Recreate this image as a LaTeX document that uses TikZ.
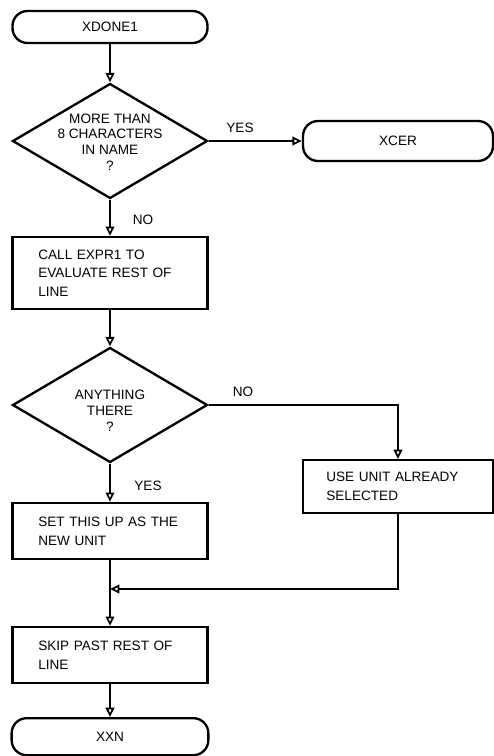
\documentclass[tikz,border=0pt]{standalone}
\usepackage{fontspec}
\setmainfont{Liberation Sans}
\usetikzlibrary{shapes.geometric}
\usetikzlibrary{arrows.meta}

\tikzset{
  term/.style={draw, line width=2pt, rounded corners=0.45cm, minimum width=5.85cm, minimum height=0.96cm},
  proc/.style={draw, line width=2pt, minimum width=5.85cm, minimum height=1.68cm, text width=4.3cm, align=left, inner sep=0pt},
  decide/.style={draw, diamond, line width=2pt, minimum width=5.85cm, minimum height=3.45cm, inner sep=0pt},
  dtext/.style={align=center, font=\fontsize{11.6}{13.5}\selectfont},
  flow/.style={line width=1pt, -{Triangle[open, length=0.28cm, width=0.26cm, line width=1.5pt]}}
}

\begin{document}
\begin{tikzpicture}[font=\fontsize{11.6}{16}\selectfont]
          \useasboundingbox (0,0) rectangle (14.82,-22.68);

          \node[term] (start) at (3.3,-0.81) {XDONE1};
          \node[decide] (d1) at (3.3,-4.23) {};
          \node[dtext] (d1t) at (3.3,-4.26) {MORE THAN\\8 CHARACTERS\\IN NAME\\?};
          \node[term, minimum width=5.7cm, minimum height=1.2cm] (xcer) at (11.94,-4.23) {XCER};
          \node[proc, minimum height=2.16cm] (evl) at (3.3,-8.19) {CALL EXPR1 TO\\EVALUATE REST OF\\LINE};

          \node[decide] (d2) at (3.3,-12.15) {};
          \node[dtext] (d2t) at (3.3,-12.33) {ANYTHING\\THERE\\?};
          \node[proc, minimum width=5.7cm, minimum height=1.59cm] (old) at (11.94,-14.6) {USE UNIT ALREADY\\SELECTED};
          \node[proc] (set) at (3.3,-15.93) {SET THIS UP AS THE\\NEW UNIT};
          \coordinate (join) at (3.3,-17.67);

          \node[proc] (skip) at (3.3,-19.65) {SKIP PAST REST OF\\LINE};
          \node[term, minimum width=5.9cm, minimum height=1.11cm] (xxn) at (3.3,-22.1) {XXN};

          \draw[flow] (start) -- (d1);
          \draw[flow] (d1) -- (xcer);
          \node (yes1) at (7.2,-3.84) {YES};
          \draw[flow] (d1) -- (evl);
          \node (no1) at (4.29,-6.6) {NO};
          \draw[flow] (evl) -- (d2);

          \draw[flow] (d2.east) -| (old.north);
          \node (no2) at (7.29,-11.76) {NO};
          \draw[flow] (d2) -- (set);
          \node (yes2) at (4.44,-14.58) {YES};
          \draw[flow] (old.south) |- (join);
          \draw[flow] (set) -- (skip);
          \draw[flow] (skip) -- (xxn);
\end{tikzpicture}
\end{document}
